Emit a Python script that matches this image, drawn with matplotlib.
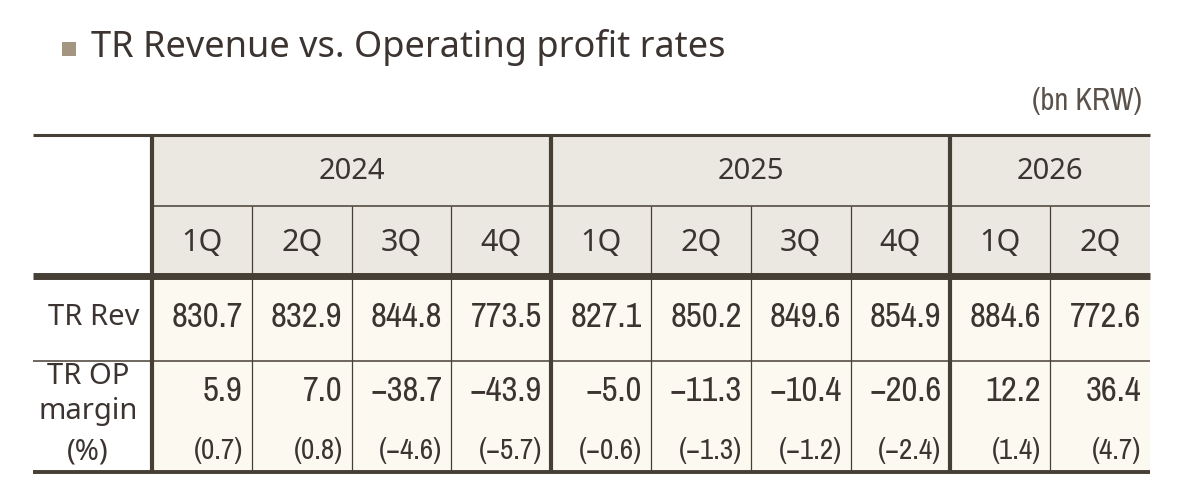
import matplotlib
matplotlib.use("Agg")
import matplotlib.pyplot as plt
from matplotlib.patches import Rectangle

# ── data ─────────────────────────────────────────────────────────────────────
years = ["2024", "2025", "2026"]
quarters_per_year = [4, 4, 2]
quarter_labels = ["1Q", "2Q", "3Q", "4Q", "1Q", "2Q", "3Q", "4Q", "1Q", "2Q"]
tr_rev = [830.7, 832.9, 844.8, 773.5, 827.1, 850.2, 849.6, 854.9, 884.6, 772.6]
tr_op = [5.9, 7.0, -38.7, -43.9, -5.0, -11.3, -10.4, -20.6, 12.2, 36.4]
tr_margin = [0.7, 0.8, -4.6, -5.7, -0.6, -1.3, -1.2, -2.4, 1.4, 4.7]

TITLE = "TR Revenue vs. Operating profit rates"
UNIT = "(bn KRW)"

# ── style ────────────────────────────────────────────────────────────────────
TEXT = "#3b3431"
LINE = "#463f36"
HEAD_BG = "#ebe8e1"
DATA_BG = "#fcfaf0"
SQUARE = "#a39580"
SANS = ["Noto Sans", "DejaVu Sans"]
NARROW = ["Archivo Narrow", "DejaVu Sans"]

# layout in pixel units
X_LEFT, X_DATA, X_RIGHT = 33, 152, 1150
Y_TOP, Y_YEAR, Y_QTR, Y_REV, Y_BOT = 136, 207, 277, 362, 473
col_w = (X_RIGHT - X_DATA) / len(quarter_labels)


def fmt(v, paren=False):
    s = f"{v:.1f}".replace("-", "\u2212")
    return f"({s})" if paren else s


fig = plt.figure(figsize=(11.84, 5.02), dpi=100)
ax = fig.add_axes([0, 0, 1, 1])
ax.set_xlim(0, 1184)
ax.set_ylim(502, 0)
ax.axis("off")

# title
ax.add_patch(Rectangle((62, 43), 14, 14, color=SQUARE, lw=0))
ax.text(91, 47, TITLE, fontsize=26, color=TEXT, family=SANS, va="center", ha="left")
ax.text(1142, 101, UNIT, fontsize=22, color="#5a514a", family=NARROW, va="center", ha="right")

# backgrounds
ax.add_patch(Rectangle((X_DATA, Y_TOP), X_RIGHT - X_DATA, Y_QTR - Y_TOP, color=HEAD_BG, lw=0))
ax.add_patch(Rectangle((X_DATA, Y_QTR), X_RIGHT - X_DATA, Y_BOT - Y_QTR, color=DATA_BG, lw=0))

# year header
start = 0
year_edges = [0]
for yr, n in zip(years, quarters_per_year):
    x0 = X_DATA + start * col_w
    x1 = X_DATA + (start + n) * col_w
    ax.text((x0 + x1) / 2, (Y_TOP + Y_YEAR) / 2, yr, fontsize=21, color=TEXT,
            family=SANS, ha="center", va="center")
    start += n
    year_edges.append(start)

# quarter row + values
for i, q in enumerate(quarter_labels):
    xc = X_DATA + (i + 0.5) * col_w
    xr = X_DATA + (i + 1) * col_w - 9
    ax.text(xc, (Y_YEAR + Y_QTR) / 2 + 1, q, fontsize=22, color=TEXT,
            family=SANS, ha="center", va="center")
    ax.text(xr, 317, fmt(tr_rev[i]), fontsize=25, color=TEXT,
            family=NARROW, ha="right", va="center")
    ax.text(xr, 391, fmt(tr_op[i]), fontsize=25, color=TEXT,
            family=NARROW, ha="right", va="center")
    ax.text(xr, 451, fmt(tr_margin[i], paren=True), fontsize=21, color=TEXT,
            family=NARROW, ha="right", va="center")

# row labels
ax.text(140, 318, "TR Rev", fontsize=21, color=TEXT, family=SANS, ha="right", va="center")
for label, y in zip(["TR OP", "margin", "(%)"], [377, 412, 452]):
    ax.text(88, y, label, fontsize=21, color=TEXT, family=SANS, ha="center", va="center")

# horizontal rules
ax.plot([X_LEFT, X_RIGHT], [Y_TOP, Y_TOP], color=LINE, lw=2.2, solid_capstyle="butt")
ax.plot([X_DATA, X_RIGHT], [Y_YEAR, Y_YEAR], color=LINE, lw=1.1, solid_capstyle="butt")
ax.plot([X_LEFT, X_RIGHT], [Y_QTR, Y_QTR], color=LINE, lw=5, solid_capstyle="butt")
ax.plot([X_LEFT, X_RIGHT], [Y_REV, Y_REV], color=LINE, lw=1.1, solid_capstyle="butt")
ax.plot([X_LEFT, X_RIGHT], [Y_BOT, Y_BOT], color=LINE, lw=2.8, solid_capstyle="butt")

# vertical rules
for i in range(len(quarter_labels)):
    x = X_DATA + i * col_w
    if i in year_edges:
        ax.plot([x, x], [Y_TOP, Y_BOT], color=LINE, lw=3, solid_capstyle="butt")
    else:
        ax.plot([x, x], [Y_YEAR, Y_BOT], color=LINE, lw=0.9, solid_capstyle="butt")

fig.savefig("out.png", dpi=100)
